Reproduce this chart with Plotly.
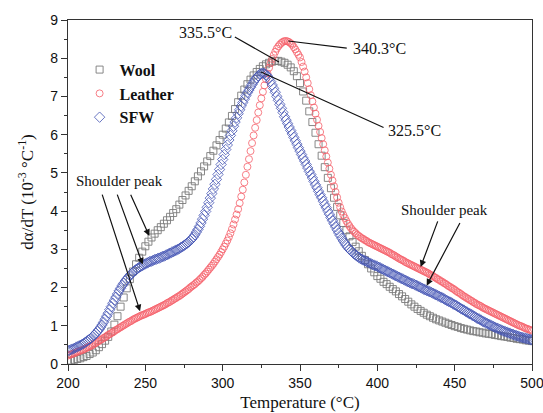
import plotly.graph_objects as go

# ---------------- data ----------------
temp_wool = list(range(200, 501, 2))
wool = [0.08, 0.09, 0.11, 0.13, 0.15, 0.18, 0.21, 0.26, 0.30, 0.36,
        0.44, 0.52, 0.61, 0.71, 0.85, 1.03, 1.25, 1.50, 1.74, 1.98,
        2.22, 2.42, 2.61, 2.78, 2.94, 3.08, 3.20, 3.31, 3.41, 3.50,
        3.58, 3.67, 3.76, 3.85, 3.95, 4.05, 4.17, 4.29, 4.41, 4.53,
        4.65, 4.78, 4.91, 5.04, 5.17, 5.30, 5.44, 5.58, 5.72, 5.86,
        6.00, 6.16, 6.32, 6.49, 6.67, 6.85, 7.02, 7.18, 7.32, 7.44,
        7.55, 7.64, 7.72, 7.79, 7.84, 7.88, 7.91, 7.93, 7.93, 7.91,
        7.88, 7.83, 7.76, 7.66, 7.53, 7.35, 7.13, 6.89, 6.61, 6.33,
        6.05, 5.75, 5.45, 5.15, 4.87, 4.60, 4.35, 4.11, 3.89, 3.69,
        3.50, 3.34, 3.19, 3.07, 2.95, 2.83, 2.72, 2.61, 2.50, 2.40,
        2.30, 2.23, 2.15, 2.09, 2.02, 1.96, 1.90, 1.83, 1.77, 1.70,
        1.63, 1.56, 1.50, 1.44, 1.39, 1.34, 1.29, 1.25, 1.21, 1.17,
        1.14, 1.11, 1.08, 1.05, 1.02, 0.99, 0.97, 0.94, 0.92, 0.90,
        0.88, 0.86, 0.85, 0.83, 0.82, 0.80, 0.79, 0.78, 0.76, 0.75,
        0.73, 0.72, 0.71, 0.69, 0.68, 0.66, 0.65, 0.64, 0.62, 0.61,
        0.60]

temp_1 = list(range(200, 501))
leather = [0.22, 0.24, 0.25, 0.27, 0.28, 0.30,
           0.32, 0.33, 0.35, 0.36, 0.38, 0.40, 0.42, 0.44, 0.46, 0.48,
           0.50, 0.53, 0.55, 0.58, 0.60, 0.63, 0.65, 0.68, 0.70, 0.73,
           0.76, 0.78, 0.81, 0.83, 0.86, 0.89, 0.91, 0.94, 0.96, 0.99,
           1.01, 1.04, 1.06, 1.09, 1.11, 1.13, 1.16, 1.18, 1.20, 1.22,
           1.24, 1.26, 1.28, 1.29, 1.31, 1.33, 1.35, 1.36, 1.38, 1.40,
           1.42, 1.44, 1.46, 1.48, 1.50, 1.52, 1.54, 1.56, 1.59, 1.61,
           1.63, 1.66, 1.68, 1.71, 1.73, 1.76, 1.78, 1.81, 1.84, 1.87,
           1.90, 1.93, 1.96, 2.00, 2.03, 2.06, 2.09, 2.13, 2.16, 2.20,
           2.24, 2.28, 2.33, 2.37, 2.42, 2.47, 2.52, 2.57, 2.62, 2.68,
           2.74, 2.80, 2.86, 2.93, 3.00, 3.07, 3.15, 3.23, 3.32, 3.42,
           3.53, 3.65, 3.78, 3.91, 4.05, 4.21, 4.38, 4.56, 4.75, 4.95,
           5.16, 5.36, 5.57, 5.78, 5.98, 6.18, 6.38, 6.58, 6.77, 6.95,
           7.12, 7.29, 7.45, 7.60, 7.75, 7.87, 7.98, 8.08, 8.17, 8.25,
           8.31, 8.36, 8.40, 8.43, 8.45, 8.45, 8.44, 8.42, 8.39, 8.35,
           8.29, 8.23, 8.16, 8.09, 8.02, 7.90, 7.78, 7.65, 7.50, 7.35,
           7.19, 7.03, 6.87, 6.71, 6.55, 6.39, 6.23, 6.07, 5.91, 5.75,
           5.59, 5.43, 5.27, 5.11, 4.95, 4.80, 4.65, 4.50, 4.36, 4.22,
           4.10, 3.99, 3.90, 3.82, 3.74, 3.67, 3.61, 3.55, 3.50, 3.46,
           3.42, 3.38, 3.35, 3.32, 3.29, 3.27, 3.24, 3.22, 3.19, 3.17,
           3.15, 3.13, 3.11, 3.09, 3.07, 3.05, 3.03, 3.01, 2.99, 2.97,
           2.95, 2.93, 2.91, 2.88, 2.86, 2.84, 2.81, 2.79, 2.76, 2.74,
           2.72, 2.70, 2.67, 2.65, 2.63, 2.61, 2.59, 2.57, 2.55, 2.53,
           2.51, 2.49, 2.47, 2.45, 2.43, 2.41, 2.39, 2.37, 2.34, 2.32,
           2.30, 2.27, 2.25, 2.22, 2.20, 2.17, 2.15, 2.12, 2.10, 2.07,
           2.04, 2.02, 1.99, 1.97, 1.94, 1.91, 1.88, 1.86, 1.83, 1.80,
           1.77, 1.75, 1.72, 1.70, 1.67, 1.65, 1.62, 1.60, 1.57, 1.55,
           1.53, 1.51, 1.48, 1.46, 1.44, 1.42, 1.40, 1.38, 1.36, 1.34,
           1.32, 1.30, 1.28, 1.26, 1.24, 1.22, 1.20, 1.18, 1.16, 1.14,
           1.12, 1.10, 1.08, 1.06, 1.04, 1.02, 1.00, 0.99, 0.97, 0.95,
           0.93, 0.92, 0.90, 0.89, 0.87]

sfw = [0.35, 0.36, 0.38, 0.39, 0.41, 0.43,
       0.45, 0.47, 0.49, 0.51, 0.53, 0.56, 0.59, 0.62, 0.65, 0.68,
       0.72, 0.76, 0.80, 0.85, 0.90, 0.96, 1.02, 1.09, 1.17, 1.25,
       1.33, 1.42, 1.50, 1.59, 1.67, 1.75, 1.83, 1.91, 1.98, 2.05,
       2.11, 2.17, 2.22, 2.27, 2.32, 2.36, 2.40, 2.44, 2.47, 2.50,
       2.53, 2.55, 2.57, 2.60, 2.62, 2.64, 2.66, 2.68, 2.69, 2.71,
       2.73, 2.74, 2.76, 2.77, 2.79, 2.81, 2.82, 2.84, 2.86, 2.88,
       2.90, 2.92, 2.94, 2.96, 2.98, 3.00, 3.02, 3.05, 3.07, 3.10,
       3.13, 3.16, 3.19, 3.23, 3.27, 3.32, 3.38, 3.45, 3.52, 3.60,
       3.69, 3.79, 3.89, 3.99, 4.10, 4.22, 4.34, 4.46, 4.58, 4.70,
       4.83, 4.96, 5.09, 5.22, 5.35, 5.48, 5.61, 5.73, 5.86, 5.98,
       6.10, 6.22, 6.33, 6.44, 6.55, 6.65, 6.75, 6.84, 6.93, 7.02,
       7.10, 7.17, 7.24, 7.31, 7.38, 7.44, 7.49, 7.54, 7.58, 7.60,
       7.61, 7.60, 7.57, 7.53, 7.47, 7.39, 7.30, 7.21, 7.11, 7.00,
       6.90, 6.79, 6.69, 6.58, 6.47, 6.38, 6.29, 6.20, 6.11, 6.02,
       5.93, 5.84, 5.75, 5.66, 5.57, 5.48, 5.39, 5.31, 5.22, 5.13,
       5.04, 4.96, 4.87, 4.78, 4.69, 4.61, 4.52, 4.43, 4.35, 4.26,
       4.17, 4.09, 4.00, 3.92, 3.83, 3.75, 3.67, 3.59, 3.51, 3.43,
       3.36, 3.29, 3.22, 3.16, 3.10, 3.05, 3.00, 2.96, 2.92, 2.88,
       2.85, 2.82, 2.79, 2.76, 2.74, 2.72, 2.70, 2.68, 2.66, 2.64,
       2.62, 2.60, 2.58, 2.57, 2.55, 2.53, 2.51, 2.49, 2.47, 2.45,
       2.43, 2.41, 2.39, 2.37, 2.35, 2.33, 2.31, 2.29, 2.27, 2.25,
       2.23, 2.21, 2.19, 2.17, 2.15, 2.13, 2.11, 2.10, 2.08, 2.06,
       2.04, 2.02, 2.00, 1.98, 1.96, 1.94, 1.92, 1.91, 1.89, 1.87,
       1.85, 1.83, 1.81, 1.79, 1.77, 1.75, 1.73, 1.71, 1.68, 1.66,
       1.64, 1.62, 1.60, 1.57, 1.55, 1.53, 1.50, 1.48, 1.45, 1.43,
       1.41, 1.38, 1.36, 1.33, 1.31, 1.29, 1.26, 1.24, 1.21, 1.19,
       1.17, 1.15, 1.12, 1.10, 1.08, 1.06, 1.04, 1.02, 1.00, 0.98,
       0.96, 0.94, 0.93, 0.91, 0.89, 0.87, 0.86, 0.84, 0.83, 0.81,
       0.80, 0.78, 0.77, 0.75, 0.74, 0.73, 0.71, 0.70, 0.69, 0.68,
       0.67, 0.66, 0.65, 0.64, 0.63]

series_names = ["Wool", "Leather", "SFW"]
x_ticks = [200, 250, 300, 350, 400, 450, 500]
y_ticks = [0, 1, 2, 3, 4, 5, 6, 7, 8, 9]

peak_labels = ["335.5°C", "340.3°C", "325.5°C"]
shoulder_label = "Shoulder peak"

# ---------------- figure ----------------
SERIF = "Liberation Serif, Times New Roman, serif"
SANS = "Liberation Sans, Arial, sans-serif"

fig = go.Figure()
fig.add_trace(go.Scatter(x=temp_wool, y=wool, mode="markers", name=series_names[0],
                         marker=dict(symbol="square-open", size=7, color="#7a7a7a",
                                     line=dict(width=0.9, color="#7a7a7a"))))
fig.add_trace(go.Scatter(x=temp_1, y=leather, mode="markers", name=series_names[1],
                         marker=dict(symbol="circle-open", size=7, color="#f5606a",
                                     line=dict(width=0.8, color="#f5606a"))))
fig.add_trace(go.Scatter(x=temp_1, y=sfw, mode="markers", name=series_names[2],
                         marker=dict(symbol="diamond-open", size=8, color="#4454b4",
                                     line=dict(width=0.8, color="#4454b4"))))

annos = []
peak_text_pos = [(288.6, 8.67), (401.7, 8.26), (424.3, 6.12)]
peak_line = [((306.9, 8.58), (336.4, 7.90)),
             ((381.2, 8.26), (342.4, 8.45)),
             ((405.0, 6.17), (324.8, 7.64))]
for lab, (tx, ty) in zip(peak_labels, peak_text_pos):
    annos.append(dict(x=tx, y=ty, xref="x", yref="y", text=lab, showarrow=False,
                      font=dict(family=SERIF, size=16, color="#111")))
for (a, b) in peak_line:
    annos.append(dict(x=b[0], y=b[1], ax=a[0], ay=a[1], xref="x", yref="y",
                      axref="x", ayref="y", text="", showarrow=True,
                      arrowhead=0, arrowwidth=1.2, arrowcolor="#111"))

annos.append(dict(x=233.6, y=4.79, xref="x", yref="y", text=shoulder_label, showarrow=False,
                  font=dict(family=SERIF, size=15, color="#111")))
annos.append(dict(x=443.5, y=4.03, xref="x", yref="y", text=shoulder_label, showarrow=False,
                  font=dict(family=SERIF, size=15, color="#111")))
shoulder_arrows = [((240.1, 4.47), (252.6, 3.35)),
                   ((231.5, 4.47), (248.3, 2.60)),
                   ((221.8, 4.47), (246.6, 1.38)),
                   ((439.4, 3.77), (428.0, 2.54)),
                   ((453.9, 3.73), (431.9, 2.05))]
for (a, b) in shoulder_arrows:
    annos.append(dict(x=b[0], y=b[1], ax=a[0], ay=a[1], xref="x", yref="y",
                      axref="x", ayref="y", text="", showarrow=True,
                      arrowhead=2, arrowsize=1.1, arrowwidth=1.2, arrowcolor="#111"))

fig.update_layout(
    width=543, height=413,
    margin=dict(l=68, r=11, t=20, b=48.5, autoexpand=False),
    paper_bgcolor="white", plot_bgcolor="white",
    showlegend=True,
    legend=dict(x=0.025, y=0.905, xanchor="left", yanchor="top",
                bgcolor="rgba(0,0,0,0)", borderwidth=0,
                font=dict(family=SERIF, size=16, color="#111", weight="bold"),
                itemsizing="trace"),
    annotations=annos,
)
fig.update_xaxes(range=[200, 500], tickvals=x_ticks, ticks="outside", ticklen=6,
                 tickwidth=1.2, tickcolor="#333", ticklabeloverflow="allow",
                 minor=dict(dtick=25, ticks="outside", ticklen=3, tickwidth=1.2, tickcolor="#333"),
                 showline=True, linecolor="#333", linewidth=1.3, mirror=True,
                 showgrid=False, zeroline=False,
                 tickfont=dict(family=SANS, size=14, color="#111"),
                 title=dict(text="Temperature (°C)", standoff=6,
                            font=dict(family=SERIF, size=17, color="#111")))
fig.update_yaxes(range=[0, 9], tickvals=y_ticks, ticks="outside", ticklen=6,
                 tickwidth=1.2, tickcolor="#333", ticklabeloverflow="allow",
                 minor=dict(dtick=0.5, ticks="outside", ticklen=3, tickwidth=1.2, tickcolor="#333"),
                 showline=True, linecolor="#333", linewidth=1.3, mirror=True,
                 showgrid=False, zeroline=False,
                 tickfont=dict(family=SANS, size=14, color="#111"),
                 title=dict(text="dα/dT (10<sup>-3</sup> °C<sup>-1</sup>)", standoff=12,
                            font=dict(family=SERIF, size=17, color="#111")))

fig.write_html("out.html", config={"displayModeBar": False},
               post_script="document.body.style.margin='0px';document.body.style.padding='0px';")
